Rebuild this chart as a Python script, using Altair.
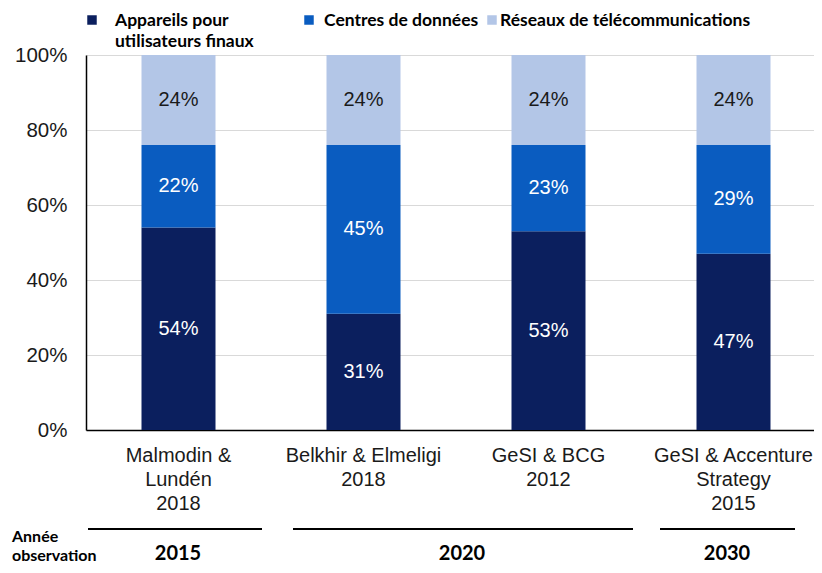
import altair as alt
import pandas as pd

# ---- data ----
sources = ["Malmodin &|Lundén|2018", "Belkhir & Elmeligi|2018", "GeSI & BCG|2012",
           "GeSI & Accenture|Strategy|2015"]
categories = ["Appareils pour utilisateurs finaux", "Centres de données",
              "Réseaux de télécommunications"]
appareils = [54, 31, 53, 47]
centres = [22, 45, 23, 29]
reseaux = [24, 24, 24, 24]
years = ["2015", "2020", "2030"]

colors = ["#0b1f5e", "#0a5cc0", "#b3c6e7"]

rows = []
for i, s in enumerate(sources):
    for k, (cat, vals) in enumerate(zip(categories, [appareils, centres, reseaux])):
        rows.append({"source": s, "category": cat, "order": k, "value": vals[i] / 100})
df = pd.DataFrame(rows)

FONT = "Liberation Sans"
BFONT = "Lato"

base = alt.Chart(df).transform_stack(
    stack="value", groupby=["source"], as_=["y0", "y1"],
    sort=[alt.SortField("order", order="ascending")]
).transform_calculate(mid="(datum.y0 + datum.y1) / 2")

xenc = alt.X("source:N", sort=sources, title=None,
             scale=alt.Scale(range=[0, 740], paddingInner=0.6, paddingOuter=0.3),
             axis=alt.Axis(labelExpr="split(datum.label, '|')", labelAngle=0,
                           labelFontSize=20, labelFont=FONT, labelColor="#1a1a1a",
                           labelPadding=15, labelLineHeight=24, labelBaseline="top",
                           ticks=False, domainColor="#000", domainWidth=1.5,
                           labelLimit=300))

bars = base.mark_bar().encode(
    x=xenc,
    y=alt.Y("y0:Q", scale=alt.Scale(domain=[0, 1]), title=None,
            axis=alt.Axis(values=[0, 0.2, 0.4, 0.6, 0.8, 1.0], format=".0%",
                          labelFontSize=20.5, labelFont=FONT, labelColor="#1a1a1a",
                          labelPadding=19, ticks=False, domainColor="#000",
                          domainWidth=1.5, gridColor="#d9d9d9", gridWidth=1)),
    y2="y1:Q",
    color=alt.Color("category:N", scale=alt.Scale(domain=categories, range=colors),
                    legend=None),
)

labels = base.mark_text(font=FONT, fontSize=20, baseline="middle").encode(
    x=alt.X("source:N", sort=sources),
    y=alt.Y("mid:Q"),
    text=alt.Text("value:Q", format=".0%"),
    color=alt.condition("datum.order == 2", alt.value("#1a1a1a"), alt.value("white")),
)

layers = [bars, labels]

# ---- legend (manual) ----
leg_sq_x = [6, 223, 406]
leg_tx_x = [29, 238, 414]
leg_lines = [["Appareils pour", "utilisateurs finaux"], ["Centres de données"],
             ["Réseaux de télécommunications"]]
for k in range(3):
    layers.append(alt.Chart(pd.DataFrame({"c": [categories[k]]})).mark_square(
        size=90, opacity=1).encode(
        x=alt.value(leg_sq_x[k]), y=alt.value(-35),
        color=alt.value(colors[k])))
    layers.append(alt.Chart(pd.DataFrame({"t": [leg_lines[k]]})).mark_text(
        font=BFONT, fontWeight="bold", fontSize=17.5, align="left",
        baseline="alphabetic", lineHeight=21, color="#000").encode(
        x=alt.value(leg_tx_x[k]), y=alt.value(-29), text="t"))

# ---- bottom group annotations ----
rule_x = [(2, 176), (207, 547), (574, 709)]
year_x = [92, 376, 641]
for k in range(3):
    layers.append(alt.Chart(pd.DataFrame({"g": [years[k]]})).mark_rule(
        color="#000", strokeWidth=2).encode(
        x=alt.value(rule_x[k][0]), x2=alt.value(rule_x[k][1]), y=alt.value(474)))
    layers.append(alt.Chart(pd.DataFrame({"g": [years[k]]})).mark_text(
        font=BFONT, fontWeight="bold", fontSize=20, baseline="middle",
        color="#000").encode(x=alt.value(year_x[k]), y=alt.value(499), text="g"))

layers.append(alt.Chart(pd.DataFrame({"t": [["Année", "observation"]]})).mark_text(
    font=BFONT, fontWeight="bold", fontSize=16, align="left", baseline="alphabetic",
    lineHeight=19, color="#000").encode(x=alt.value(-74), y=alt.value(487), text="t"))

chart = alt.layer(*layers).properties(
    width=728, height=375,
    autosize=alt.AutoSizeParams(type="none"),
    padding={"left": 78, "top": 47, "right": 0, "bottom": 135},
).configure_view(stroke=None)

chart.save("out.html", embed_options={"renderer": "svg", "actions": False})
